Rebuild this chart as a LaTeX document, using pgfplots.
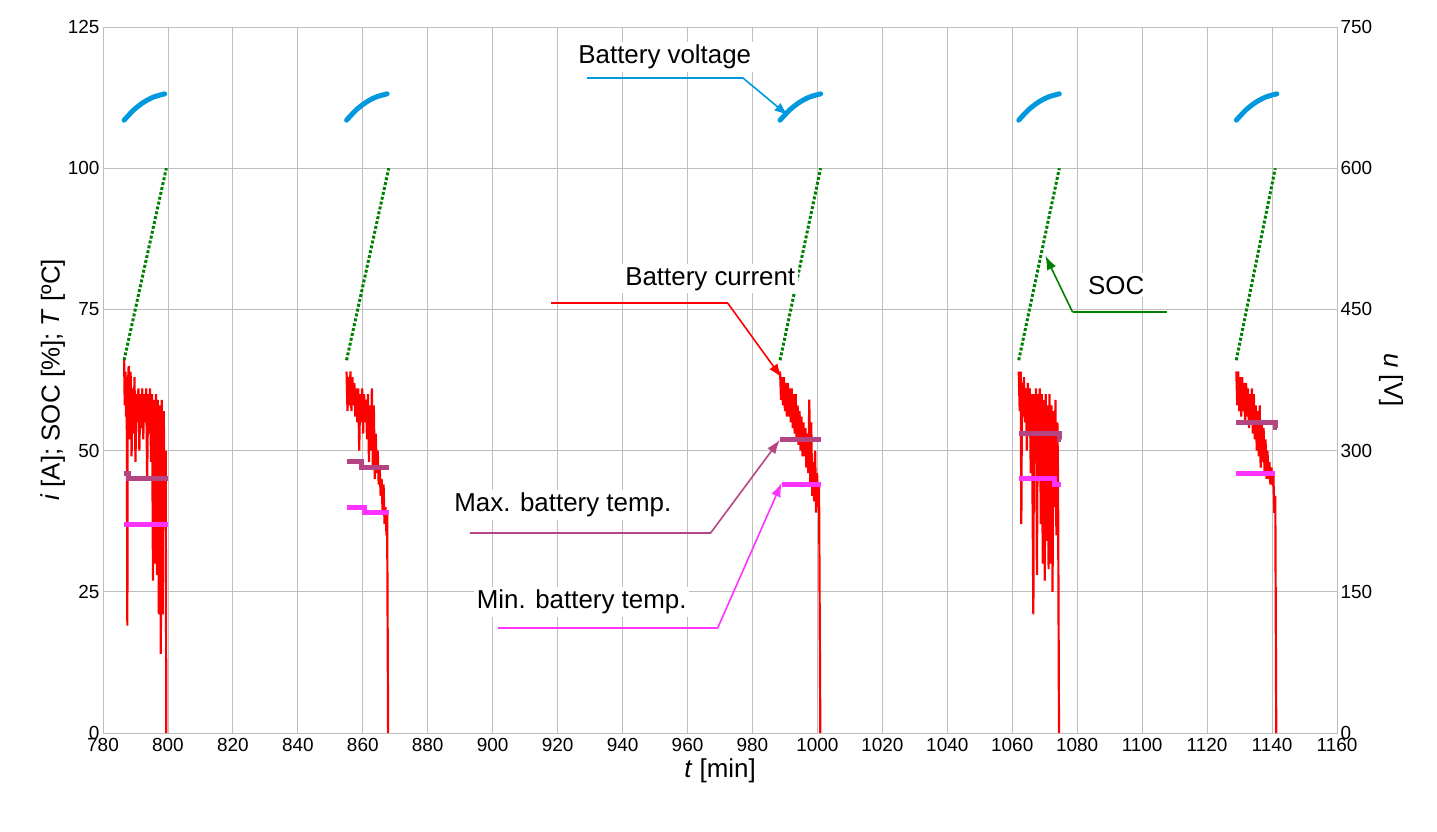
\documentclass[border=0pt]{standalone}
\usepackage{pgfplots}
\pgfplotsset{compat=1.18}
\usepackage{fontspec}
\setmainfont{Liberation Sans}
\usetikzlibrary{arrows.meta}
\definecolor{cur}{RGB}{255,0,0}
\definecolor{soc}{RGB}{0,128,0}
\definecolor{volt}{RGB}{0,153,221}
\definecolor{tmax}{RGB}{180,69,130}
\definecolor{tmin}{RGB}{255,51,255}
\definecolor{gridc}{RGB}{190,190,190}
\begin{document}
\begin{tikzpicture}[x=1bp,y=1bp,font=\fontsize{19}{22}\selectfont]
\path (0,0) rectangle (1437,831);
\pgfplotsset{every axis/.append style={scale only axis,width=1234bp,height=706bp,
  xmin=780,xmax=1160,/pgf/number format/assume math mode=true,
  tick style={draw=none},axis line style={gridc},
  xticklabel style={yshift=-2pt},
  label style={font=\fontsize{26}{30}\selectfont}}}
\begin{axis}[at={(103bp,98bp)},anchor=south west,
  ymin=0,ymax=125,ytick={0,25,...,125},xtick={780,800,...,1160},
  grid=major,grid style={gridc,line width=0.8pt},
  /pgf/number format/.cd,1000 sep={},
  ]
\pgfplotsset{xlabel={\textit{t} [min]},ylabel={\textit{i} [A]; SOC [\%]; \textit{T} [ºC]},
  xlabel style={yshift=0pt},ylabel style={yshift=-4pt}}
% SOC
\foreach \a/\b in {786.5/799.5,855/868,988.5/1001,1062/1074.5,1129/1141}{
 \edef\tmp{\noexpand\addplot[soc,line width=3pt,dotted] coordinates {(\a,66)(\b,100)};}\tmp}
% current
\addplot[cur,line width=2.2pt] coordinates {(786.5,66)(786.7,58)(786.9,64)(787.1,56)(787.3,63)(787.5,19)(787.6,60)(787.9,65)(788.2,52)(788.5,64)(788.8,49)(789.1,61)(789.4,53)(789.7,63)(790,48)(790.3,60)(790.6,55)(790.9,61)(791.2,50)(791.5,60)(791.8,54)(792.1,61)(792.4,52)(792.7,60)(793,55)(793.3,61)(793.6,45)(793.9,60)(794.2,53)(794.5,61)(794.8,48)(795.1,60)(795.4,27)(795.7,59)(796,30)(796.3,60)(796.6,28)(796.9,59)(797.2,21)(797.5,58)(797.8,14)(798.1,59)(798.4,21)(798.7,57)(799,40)(799.3,50)(799.5,0)};
\addplot[cur,line width=2.2pt] coordinates {(855,64)(855.3,57)(855.6,63)(855.9,58)(856.2,64)(856.5,57)(856.8,63)(857.1,58)(857.4,62)(857.7,56)(858,61)(858.3,55)(858.6,61)(858.9,50)(859.2,60)(859.5,55)(859.8,61)(860.1,53)(860.4,60)(860.7,55)(861,59)(861.3,52)(861.6,60)(861.9,48)(862.2,58)(862.5,50)(862.8,61)(863.1,47)(863.4,58)(863.7,45)(864,53)(864.3,46)(864.6,50)(864.9,44)(865.2,47)(865.5,42)(865.8,45)(866.1,39)(866.4,44)(866.7,37)(867,40)(867.3,35)(867.5,39)(867.8,0)};
\addplot[cur,line width=2.2pt] coordinates {(988.5,64)(988.8,59)(989.1,63)(989.4,58)(989.7,63)(990,57)(990.3,62)(990.6,56)(990.9,62)(991.2,56)(991.5,61)(991.8,55)(992.1,61)(992.4,54)(992.7,60)(993,53)(993.3,60)(993.6,52)(993.9,58)(994.2,51)(994.5,57)(994.8,50)(995.1,56)(995.4,49)(995.7,55)(996,49)(996.3,54)(996.6,47)(996.9,53)(997.2,46)(997.5,59)(997.8,44)(998.1,55)(998.4,42)(998.7,48)(999,41)(999.3,50)(999.6,39)(999.9,46)(1000.2,40)(1000.5,44)(1000.9,0)};
\addplot[cur,line width=2.2pt] coordinates {(1062,64)(1062.3,57)(1062.6,64)(1062.8,37)(1063,62)(1063.3,56)(1063.6,63)(1063.9,55)(1064.2,61)(1064.5,50)(1064.8,62)(1065.1,53)(1065.4,61)(1065.7,46)(1066,60)(1066.3,38)(1066.5,21)(1066.7,60)(1067,50)(1067.3,61)(1067.6,28)(1067.9,60)(1068.2,45)(1068.5,61)(1068.8,37)(1069.1,60)(1069.4,30)(1069.7,59)(1070,27)(1070.3,60)(1070.6,34)(1070.9,58)(1071.2,29)(1071.5,60)(1071.8,30)(1072.1,58)(1072.4,25)(1072.7,57)(1073,40)(1073.3,59)(1073.6,35)(1073.9,55)(1074.1,45)(1074.4,0)};
\addplot[cur,line width=2.2pt] coordinates {(1129,64)(1129.3,58)(1129.6,64)(1129.9,57)(1130.2,63)(1130.5,56)(1130.8,63)(1131.1,57)(1131.4,62)(1131.7,55)(1132,62)(1132.3,56)(1132.6,61)(1132.9,54)(1133.2,60)(1133.5,55)(1133.8,61)(1134.1,53)(1134.4,60)(1134.7,52)(1135,58)(1135.3,50)(1135.6,57)(1135.9,49)(1136.2,58)(1136.5,47)(1136.8,55)(1137.1,48)(1137.4,54)(1137.7,46)(1138,52)(1138.3,45)(1138.6,50)(1138.9,45)(1139.2,48)(1139.5,44)(1139.8,47)(1140.1,45)(1140.4,46)(1140.7,39)(1141,42)(1141.3,0)};
% temps
\addplot[tmax,line width=5pt] coordinates {(786.5,46)(788,46)(788,45)(800,45)};
\addplot[tmin,line width=5pt] coordinates {(786.5,37)(800,37)};
\addplot[tmax,line width=5pt] coordinates {(855,48)(859.5,48)(859.5,47)(868,47)};
\addplot[tmin,line width=5pt] coordinates {(855,40)(860.5,40)(860.5,39)(868,39)};
\addplot[tmax,line width=5pt] coordinates {(988.5,52)(1001,52)};
\addplot[tmin,line width=5pt] coordinates {(989,44)(1001,44)};
\addplot[tmax,line width=5pt] coordinates {(1062,53)(1074.5,53)(1074.5,52)(1075,52)};
\addplot[tmin,line width=5pt] coordinates {(1062,45)(1073,45)(1073,44)(1075,44)};
\addplot[tmax,line width=5pt] coordinates {(1129,55)(1141,55)(1141,54)(1141.5,54)};
\addplot[tmin,line width=5pt] coordinates {(1129,46)(1141,46)};
% annotations
\tikzset{ann/.style={line width=1.6pt},arr/.style={line width=1.6pt,-{Latex[length=14pt,width=10pt]}},
  lab/.style={fill=white,inner sep=3pt,font=\fontsize{26}{30}\selectfont}}
\draw[volt,ann] (axis cs:929,116)--(axis cs:977,116);
\draw[volt,arr] (axis cs:977,116)--(axis cs:991,109.3);
\node[lab] at (axis cs:953,119.7) {Battery voltage};
\draw[cur,ann] (axis cs:918,76.1)--(axis cs:972.4,76.1);
\draw[cur,arr] (axis cs:972.4,76.1)--(axis cs:989,62.9);
\node[lab] at (axis cs:967,80.4) {Battery current};
\draw[soc,ann] (axis cs:1107.8,74.5)--(axis cs:1078.6,74.5);
\draw[soc,arr] (axis cs:1078.6,74.5)--(axis cs:1070.2,84.5);
\node[lab] at (axis cs:1092,79.3) {SOC};
\draw[tmax,ann] (axis cs:893,35.4)--(axis cs:967.1,35.4);
\draw[tmax,arr] (axis cs:967.1,35.4)--(axis cs:988.4,51.9);
\node[lab] at (axis cs:921.6,40.4) {Max. battery temp.};
\draw[tmin,ann] (axis cs:901.6,18.6)--(axis cs:969.3,18.6);
\draw[tmin,arr] (axis cs:969.3,18.6)--(axis cs:989,44.3);
\node[lab] at (axis cs:927.4,23.2) {Min. battery temp.};
\end{axis}
\begin{axis}[at={(103bp,98bp)},anchor=south west,
  ymin=0,ymax=750,ytick={0,150,...,750},axis y line*=right,axis x line=none,
  ylabel={\textit{u} [V]},ylabel style={rotate=180,yshift=0pt}]
\foreach \a in {786.5,855,988.5,1062,1129}{
 \edef\tmp{\noexpand\addplot[volt,line width=5pt,line cap=round,smooth] coordinates {(\a,651)(\a+3,662)(\a+6,670)(\a+9,675.5)(\a+12.5,679)};}\tmp}
\end{axis}
\end{tikzpicture}
\end{document}
